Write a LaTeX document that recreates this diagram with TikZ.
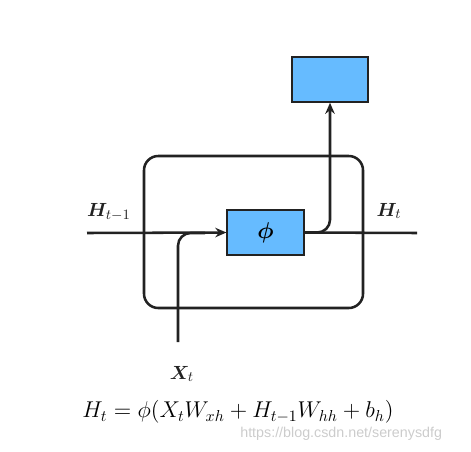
\documentclass[tikz,border=0pt]{standalone}
\usepackage{amsmath,bm}
\usepackage{fontspec}
\newfontfamily\wmfont{Liberation Sans}
\usetikzlibrary{arrows.meta}
\definecolor{boxblue}{HTML}{66BBFF}
\definecolor{ink}{HTML}{222222}
\tikzset{
  line/.style={draw=ink, line width=1.6pt},
  blk/.style={draw=ink, line width=1.3pt, fill=boxblue, minimum width=48pt, minimum height=28pt, inner sep=0pt},
  tip/.style={-{Stealth[length=7pt,width=6pt]}},
  lbl/.style={inner sep=0pt, text=ink, font=\fontsize{13}{15}\selectfont}
}
\begin{document}
\begin{tikzpicture}[x=0.63pt,y=-0.63pt]
\useasboundingbox (0,0) rectangle (471,451);
\draw[line, rounded corners=9pt] (144,156) rectangle (363,308);
\node[blk, font=\fontsize{14}{16}\selectfont] (phi) at (265.5,232.5) {$\bm{\phi}$};
\node[blk] (top) at (330,79.5) {};
\coordinate (hin) at (87,233);
\coordinate (hout) at (417,233);
\coordinate (xin) at (178,342);
\coordinate (xj) at (205,233);
\draw[line, tip] (hin) -- (phi.west);
\draw[line, rounded corners=8pt] (xin) |- (xj);
\draw[line] (phi.east) -- (hout);
\draw[line, tip, rounded corners=8pt] (phi.east) -| (top.south);
\node[lbl] (lh1) at (109,212) {$\bm{H}_{t-1}$};
\node[lbl] (lh) at (389,211) {$\bm{H}_{t}$};
\node[lbl] (lx) at (182,374) {$\bm{X}_{t}$};
\node[lbl, text=black, font=\fontsize{14.5}{17}\selectfont] (eq) at (238,412) {$H_t=\phi(X_tW_{xh}+H_{t-1}W_{hh}+b_h)$};
\node[lbl, font=\small, text=gray!40, anchor=west] (wm) at (240,434) {\wmfont https://blog.csdn.net/serenysdfg};
\end{tikzpicture}
\end{document}
